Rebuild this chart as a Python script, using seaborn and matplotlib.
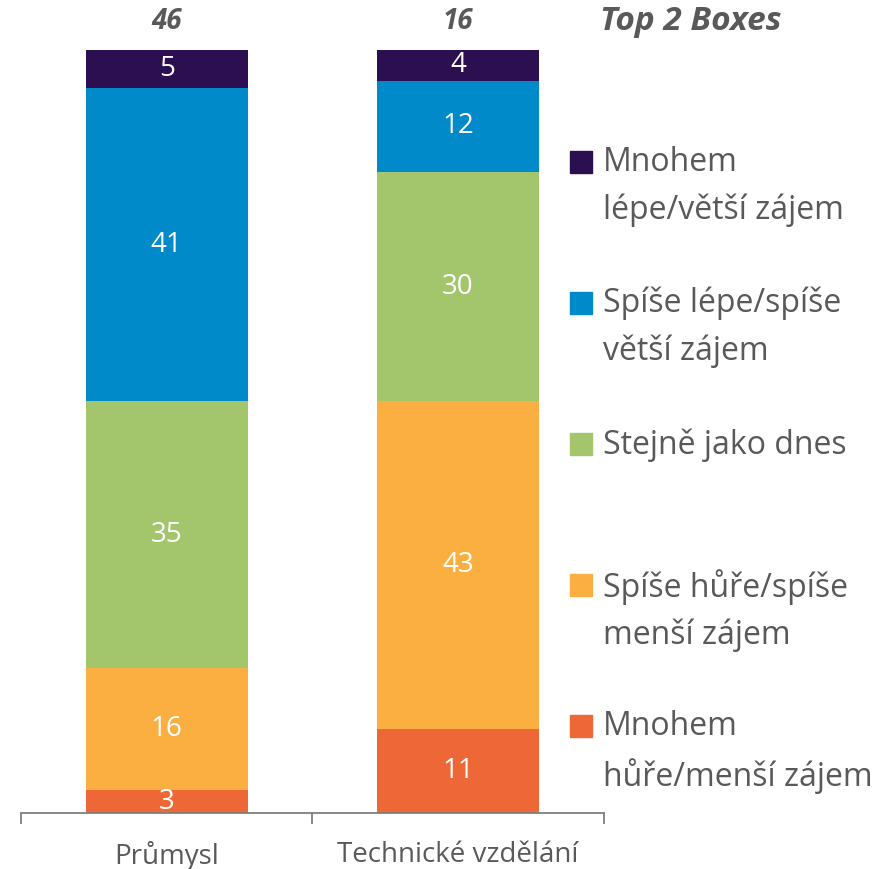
import matplotlib
matplotlib.use('Agg')
import numpy as np
import pandas as pd
import matplotlib.pyplot as plt
import seaborn as sns
from matplotlib.patches import Rectangle

categories = ['Průmysl', 'Technické vzdělání']
mnohem_hure = [3, 11]
spise_hure = [16, 43]
stejne = [35, 30]
spise_lepe = [41, 12]
mnohem_lepe = [5, 4]
top2 = [46, 16]

series_labels = ['Mnohem\nhůře/menší zájem', 'Spíše hůře/spíše\nmenší zájem',
                 'Stejně jako dnes', 'Spíše lépe/spíše\nvětší zájem',
                 'Mnohem\nlépe/větší zájem']
series_colors = ['#EE6837', '#FBAF41', '#A3C56B', '#008AC9', '#2B0F51']

sns.set_style('white')
plt.rcParams['font.family'] = ['Open Sans', 'DejaVu Sans']
GREY = '#595959'

df = pd.DataFrame([mnohem_hure, spise_hure, stejne, spise_lepe, mnohem_lepe],
                  index=series_labels, columns=categories)
cum = df.cumsum()

fig = plt.figure(figsize=(8.75, 8.69), dpi=100)
ax = fig.add_axes([0.024, 0.0644, 0.666, 0.878])

# stacked bars: draw cumulative totals from the top series down
for lab, col in zip(series_labels[::-1], series_colors[::-1]):
    sns.barplot(x=categories, y=cum.loc[lab].values, color=col, saturation=1,
                width=0.556, errorbar=None, linewidth=0, ax=ax)

# segment labels
for i, cat in enumerate(categories):
    for lab in series_labels:
        v = df.loc[lab, cat]
        mid = cum.loc[lab, cat] - v / 2
        ax.text(i, mid, f'{v}', ha='center', va='center', color='white', fontsize=20)
    ax.annotate(f'{top2[i]}', xy=(i, 100), xytext=(0, 20.5), textcoords='offset points',
                ha='center', va='center', fontsize=20, fontweight='bold',
                fontstyle='italic', color=GREY, annotation_clip=False)
ax.annotate('Top 2 Boxes', xy=(1.15, 100), xytext=(0, 20.5), textcoords='offset points',
            xycoords=('axes fraction', 'data'), ha='center', va='center', fontsize=24,
            fontweight='bold', fontstyle='italic', color=GREY, annotation_clip=False)

ax.set_ylim(0, 100)
ax.set_xlim(-0.5, 1.5)
ax.set_yticks([])
ax.set_xlabel('')
ax.set_ylabel('')
for s in ['left', 'top', 'right']:
    ax.spines[s].set_visible(False)
ax.spines['bottom'].set_color('#7F7F7F')
ax.spines['bottom'].set_linewidth(1.3)
ax.set_xticks([-0.5, 0.5, 1.5], minor=True)
ax.tick_params(axis='x', which='major', bottom=True, length=0, pad=20,
               labelsize=20, labelcolor=GREY)
ax.tick_params(axis='x', which='minor', bottom=True, length=8, width=1.3,
               color='#7F7F7F', direction='out')

# legend, top entry first, evenly spaced
W, H = 875, 869
for k, (lab, col) in enumerate(zip(series_labels[::-1], series_colors[::-1])):
    yc = 162 + 141 * k
    fig.patches.append(Rectangle((570 / W, 1 - (yc + 11) / H), 22 / W, 22 / H,
                                 transform=fig.transFigure, color=col))
    fig.text(603 / W, 1 - (yc - 16) / H, lab, ha='left', va='top', fontsize=23,
             color=GREY, linespacing=1.55)

fig.savefig('out.png', dpi=100)
